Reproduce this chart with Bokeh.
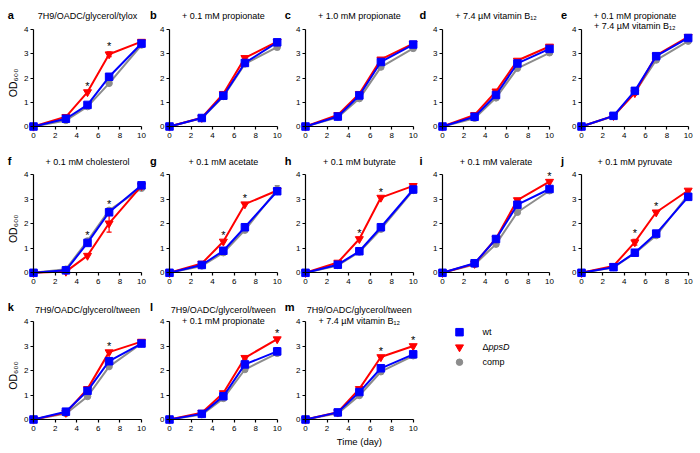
import math
from bokeh.plotting import figure
from bokeh.models import Range1d, Label, Whisker, ColumnDataSource, TeeHead, FixedTicker
from bokeh.layouts import column, row
from bokeh.embed import file_html
from bokeh.resources import INLINE
from bokeh.core.properties import value

# ---------------- data ----------------
days = [0, 3, 5, 7, 10]
x_ticks = [0, 2, 4, 6, 8, 10]
y_ticks = [0, 1, 2, 3, 4]
legend_labels = ["wt", "\u0394", "ppsD", "comp"]

a_wt    = [0, 0.32, 0.89, 2.05, 3.42]
a_dppsD = [0, 0.40, 1.42, 2.98, 3.50]
a_comp  = [0, 0.25, 0.82, 1.78, 3.36]
a_err_wt, a_err_dppsD, a_err_comp = [0, 0, 0, 0, 0], [0, 0, 0, 0.10, 0.06], [0, 0, 0, 0, 0]
a_stars = [5, 7]

b_wt    = [0, 0.35, 1.27, 2.62, 3.47]
b_dppsD = [0, 0.36, 1.35, 2.83, 3.50]
b_comp  = [0, 0.34, 1.24, 2.58, 3.27]
b_err_wt, b_err_dppsD, b_err_comp = [0, 0, 0, 0, 0], [0, 0, 0, 0, 0], [0, 0, 0, 0, 0.10]
b_stars = []

c_wt    = [0, 0.41, 1.28, 2.66, 3.38]
c_dppsD = [0, 0.48, 1.35, 2.77, 3.42]
c_comp  = [0, 0.38, 1.15, 2.45, 3.22]
c_err_wt, c_err_dppsD, c_err_comp = [0, 0, 0, 0, 0], [0, 0, 0, 0, 0], [0, 0, 0, 0, 0]
c_stars = []

d_wt    = [0, 0.40, 1.30, 2.60, 3.20]
d_dppsD = [0, 0.48, 1.45, 2.72, 3.30]
d_comp  = [0, 0.34, 1.18, 2.40, 3.04]
d_err_wt, d_err_dppsD, d_err_comp = [0, 0, 0, 0, 0], [0, 0, 0, 0, 0.06], [0, 0, 0, 0, 0]
d_stars = []

e_wt    = [0, 0.44, 1.47, 2.90, 3.65]
e_dppsD = [0, 0.44, 1.38, 2.93, 3.70]
e_comp  = [0, 0.42, 1.40, 2.74, 3.52]
e_err_wt, e_err_dppsD, e_err_comp = [0, 0, 0, 0, 0], [0, 0, 0, 0, 0.08], [0, 0, 0, 0, 0]
e_stars = []

f_wt    = [0, 0.10, 1.22, 2.47, 3.57]
f_dppsD = [0, 0.05, 0.70, 2.02, 3.55]
f_comp  = [0, 0.15, 1.30, 2.55, 3.45]
f_err_wt, f_err_dppsD, f_err_comp = [0, 0, 0, 0, 0], [0, 0, 0, 0.36, 0], [0, 0, 0, 0, 0]
f_stars = [5, 7]

g_wt    = [0, 0.32, 0.90, 1.86, 3.33]
g_dppsD = [0, 0.38, 1.28, 2.80, 3.36]
g_comp  = [0, 0.28, 0.82, 1.74, 3.40]
g_err_wt, g_err_dppsD, g_err_comp = [0, 0, 0, 0, 0], [0, 0, 0, 0, 0], [0, 0, 0, 0, 0.16]
g_stars = [5, 7]

h_wt    = [0, 0.33, 0.88, 1.86, 3.40]
h_dppsD = [0, 0.42, 1.38, 3.07, 3.55]
h_comp  = [0, 0.30, 0.85, 1.78, 3.36]
h_err_wt, h_err_dppsD, h_err_comp = [0, 0, 0, 0.06, 0], [0, 0, 0, 0, 0.06], [0, 0, 0, 0, 0]
h_stars = [5, 7]

i_wt    = [0, 0.39, 1.38, 2.78, 3.42]
i_dppsD = [0, 0.37, 1.40, 2.97, 3.72]
i_comp  = [0, 0.34, 1.17, 2.47, 3.35]
i_err_wt, i_err_dppsD, i_err_comp = [0, 0, 0, 0, 0], [0, 0, 0, 0, 0], [0, 0, 0, 0, 0]
i_stars = [10]

j_wt    = [0, 0.23, 0.82, 1.60, 3.10]
j_dppsD = [0, 0.28, 1.25, 2.47, 3.36]
j_comp  = [0, 0.22, 0.80, 1.52, 3.18]
j_err_wt, j_err_dppsD, j_err_comp = [0, 0, 0, 0.12, 0], [0, 0, 0.12, 0, 0], [0, 0, 0, 0, 0]
j_stars = [5, 7]

k_wt    = [0, 0.32, 1.17, 2.38, 3.10]
k_dppsD = [0, 0.28, 1.25, 2.75, 3.18]
k_comp  = [0, 0.24, 0.94, 2.16, 3.10]
k_err_wt, k_err_dppsD, k_err_comp = [0, 0, 0, 0, 0], [0, 0, 0, 0, 0], [0, 0, 0, 0, 0]
k_stars = [7]

l_wt    = [0, 0.23, 0.95, 2.25, 2.78]
l_dppsD = [0, 0.28, 1.08, 2.52, 3.28]
l_comp  = [0, 0.20, 0.86, 2.04, 2.70]
l_err_wt, l_err_dppsD, l_err_comp = [0, 0, 0, 0.20, 0.15], [0, 0, 0, 0, 0], [0, 0, 0, 0, 0]
l_stars = [10]

m_wt    = [0, 0.29, 1.12, 2.09, 2.66]
m_dppsD = [0, 0.30, 1.25, 2.55, 3.00]
m_comp  = [0, 0.25, 0.98, 1.95, 2.60]
m_err_wt, m_err_dppsD, m_err_comp = [0, 0, 0, 0, 0.10], [0, 0, 0, 0, 0], [0, 0, 0, 0, 0]
m_stars = [7, 10]

titles = {
    "a": ["7H9/OADC/glycerol/tylox"],
    "b": ["+ 0.1 mM propionate"],
    "c": ["+ 1.0 mM propionate"],
    "d": ["+ 7.4 \u00b5M vitamin B\u2081\u2082"],
    "e": ["+ 0.1 mM propionate", "+ 7.4 \u00b5M vitamin B\u2081\u2082"],
    "f": ["+ 0.1 mM cholesterol"],
    "g": ["+ 0.1 mM acetate"],
    "h": ["+ 0.1 mM butyrate"],
    "i": ["+ 0.1 mM valerate"],
    "j": ["+ 0.1 mM pyruvate"],
    "k": ["7H9/OADC/glycerol/tween"],
    "l": ["7H9/OADC/glycerol/tween", "+ 0.1 mM propionate"],
    "m": ["7H9/OADC/glycerol/tween", "+ 7.4 \u00b5M vitamin B\u2081\u2082"],
}
y_label = "OD\u2086\u2080\u2080"
x_label = "Time (day)"

D = globals()
panels = []
for L in "abcdefghijklm":
    panels.append(dict(
        letter=L, title=titles[L],
        wt=D[L + "_wt"], dppsD=D[L + "_dppsD"], comp=D[L + "_comp"],
        wt_err=D[L + "_err_wt"], dppsD_err=D[L + "_err_dppsD"], comp_err=D[L + "_err_comp"],
        stars=D[L + "_stars"]))

# ---------------- style / layout (pixels) ----------------
FONT = "Liberation Sans"
BLUE, RED, GRAY = "#0000ff", "#ff0000", "#8c8c8c"
col_split = [0, 147, 282, 418, 556, 700]
row_split = [0, 146, 293, 453]
col_data0 = [33, 169, 305, 442, 581]          # pixel of x = 0
col_pxx = [10.8, 10.77, 10.77, 10.7, 10.67]   # px per day
row_data0 = [126, 272.3, 419]                  # pixel of y = 0
row_pxy = [24.25, 24.5, 24.5]                  # px per OD unit
col_letter_dx = [-25.7, -19.5, -20.7, -23, -20.5]
letter_dy = 14.2
title_dy = {1: [[14], [12.8], [12]], 2: [[14, 4], None, [11.5, 1]]}
STAR_GAP_PX = 6
OD_DX, OD_Y = -20.5, 1.8
TIME_DY = -22


def make_panel(pn, ci, ri):
    x0, x1 = col_split[ci], col_split[ci + 1]
    y0, y1 = row_split[ri], row_split[ri + 1]
    pxx, pxy = col_pxx[ci], row_pxy[ri]
    p = figure(width=x1 - x0, height=y1 - y0,
               output_backend="svg", toolbar_location=None, title=None,
               x_range=Range1d((x0 - col_data0[ci]) / pxx, (x1 - col_data0[ci]) / pxx),
               y_range=Range1d((row_data0[ri] - y1) / pxy, (row_data0[ri] - y0) / pxy),
               min_border=0)
    p.outline_line_color = None
    p.grid.visible = False
    p.background_fill_color = "white"
    p.border_fill_color = "white"
    for ax in (p.xaxis[0], p.yaxis[0]):
        ax.fixed_location = 0
        ax.axis_line_color = "black"
        ax.axis_line_width = 1.2
        ax.major_tick_line_color = "black"
        ax.major_tick_line_width = 1.2
        ax.major_tick_out = 3
        ax.major_tick_in = 0
        ax.minor_tick_line_color = None
        ax.major_label_text_font = FONT
        ax.major_label_text_font_size = "8px"
        ax.major_label_text_color = "black"
    p.xaxis[0].major_label_standoff = 3
    p.yaxis[0].major_label_standoff = 2
    p.xaxis[0].ticker = FixedTicker(ticks=x_ticks)
    p.yaxis[0].ticker = FixedTicker(ticks=y_ticks)
    p.xaxis[0].bounds = (0, 10)
    p.yaxis[0].bounds = (0, 4)

    for key, color, marker, size in [("comp", GRAY, "circle", 6.5),
                                      ("dppsD", RED, "inverted_triangle", 8),
                                      ("wt", BLUE, "square", 7.5)]:
        vals = pn[key]
        err = pn[key + "_err"]
        p.line(days, vals, line_color=color, line_width=2)
        idx = [i for i, e in enumerate(err) if e > 0]
        if idx:
            src = ColumnDataSource(dict(base=[days[i] for i in idx],
                                        upper=[vals[i] + err[i] for i in idx],
                                        lower=[vals[i] - err[i] for i in idx]))
            p.add_layout(Whisker(source=src, base="base", upper="upper", lower="lower",
                                 line_color=color, line_width=1.2,
                                 upper_head=TeeHead(size=5, line_color=color, line_width=1.2),
                                 lower_head=TeeHead(size=5, line_color=color, line_width=1.2)))
        p.scatter(days, vals, marker=marker, size=size, fill_color=color, line_color=color)

    for d in pn["stars"]:
        i = days.index(d)
        top = max(pn[k][i] + pn[k + "_err"][i] for k in ("wt", "dppsD", "comp"))
        p.add_layout(Label(x=d, y=top + STAR_GAP_PX / pxy, text="*", text_align="center",
                           text_baseline="middle", text_font=FONT, text_font_size="11px",
                           text_color="black"))

    lines = pn["title"]
    for t, dy in zip(lines, title_dy[len(lines)][ri]):
        p.add_layout(Label(x=5, y=4 + dy / pxy, text=t, text_align="center",
                           text_baseline="middle", text_font=FONT, text_font_size="9px",
                           text_color="black"))
    p.add_layout(Label(x=col_letter_dx[ci] / pxx, y=4 + letter_dy / pxy, text=pn["letter"],
                       text_align="left", text_baseline="middle", text_font=FONT,
                       text_font_size="11px", text_font_style="bold", text_color="black"))
    if ci == 0:
        p.add_layout(Label(x=OD_DX / pxx, y=OD_Y, text=y_label, angle=math.pi / 2,
                           text_align="center", text_baseline="middle", text_font=FONT,
                           text_font_size="10.5px", text_color="black"))
    return p


figs = []
for n, pn in enumerate(panels):
    ri, ci = divmod(n, 5)
    figs.append(make_panel(pn, ci, ri))

# x label under panel m
figs[12].add_layout(Label(x=5, y=TIME_DY / row_pxy[2], text=x_label, text_align="center",
                          text_baseline="middle", text_font=FONT, text_font_size="9.5px",
                          text_color="black"))

# legend panel (coordinates in page pixels)
lx0, lx1, ly0, ly1 = col_split[3], col_split[5], row_split[2], row_split[3]
leg = figure(width=lx1 - lx0, height=ly1 - ly0, output_backend="svg", toolbar_location=None,
             title=None, x_range=Range1d(lx0, lx1), y_range=Range1d(ly1, ly0),
             x_axis_type=None, y_axis_type=None, min_border=0)
leg.outline_line_color = None
leg.grid.visible = False
leg_mx, leg_tx, leg_y0, leg_dy = 459, 482, 331.7, 15
leg_items = [(BLUE, "square", 7.5), (RED, "inverted_triangle", 8), (GRAY, "circle", 6.5)]
for k, (color, marker, size) in enumerate(leg_items):
    leg.scatter([leg_mx], [leg_y0 + k * leg_dy], marker=marker, size=size,
                fill_color=color, line_color=color)
txt = dict(text_font=value(FONT), text_font_size="9px", text_baseline="middle",
           text_align="left", text_color="black")
leg.text([leg_tx], [leg_y0], text=[legend_labels[0]], **txt)
leg.text([leg_tx], [leg_y0 + leg_dy], text=[legend_labels[1]], **txt)
leg.text([leg_tx + 6], [leg_y0 + leg_dy], text=[legend_labels[2]], text_font_style="italic", **txt)
leg.text([leg_tx], [leg_y0 + 2 * leg_dy], text=[legend_labels[3]], **txt)

layout = column(row(*figs[0:5]), row(*figs[5:10]), row(figs[10], figs[11], figs[12], leg))

open("out.html", "w").write(file_html(layout, INLINE))
